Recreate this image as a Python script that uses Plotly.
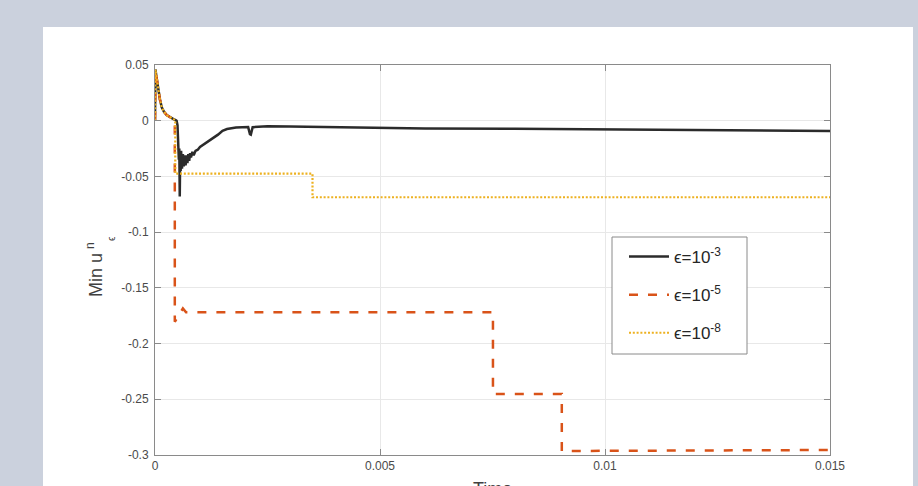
import plotly.graph_objects as go

# ---- data -------------------------------------------------------------
# common initial decay of the minimum (all three runs coincide here)
t_decay = [0.0, 0.00001, 0.00003, 0.00005, 0.00008, 0.00011, 0.00015,
           0.0002, 0.00026, 0.00033, 0.00041]
v_decay = [0.0, 0.046, 0.040, 0.034, 0.027, 0.019, 0.012,
           0.008, 0.005, 0.003, 0.0014]

# eps = 1e-3
t_e3 = t_decay + [0.00046, 0.00048, 0.0005, 0.00051, 0.00052, 0.00053, 0.00054,
                  0.00055, 0.00056, 0.00057, 0.00058, 0.0006, 0.00062, 0.00064,
                  0.00066, 0.00068, 0.0007, 0.00072, 0.00074, 0.00076, 0.00078,
                  0.0008, 0.00083, 0.00086, 0.0009, 0.00095, 0.001, 0.0011,
                  0.0012, 0.0013, 0.0014, 0.0015, 0.0016, 0.0018, 0.002,
                  0.00207, 0.00211, 0.00213, 0.00217, 0.0025, 0.003, 0.004,
                  0.005, 0.006, 0.008, 0.01, 0.012, 0.015]
v_e3 = v_decay + [0.0005, 0.0, -0.004, -0.02, -0.012, -0.035, -0.025,
                  -0.068, -0.03, -0.045, -0.027, -0.043, -0.03, -0.041,
                  -0.031, -0.04, -0.031, -0.038, -0.03, -0.036, -0.029,
                  -0.033, -0.028, -0.031, -0.027, -0.026, -0.0236, -0.021,
                  -0.018, -0.0155, -0.0125, -0.009, -0.0075, -0.0062, -0.0055,
                  -0.0057, -0.012, -0.0125, -0.0058, -0.005, -0.0052, -0.006,
                  -0.0066, -0.007, -0.0072, -0.0078, -0.0085, -0.0093]

# eps = 1e-5
t_e5 = t_decay + [0.00044, 0.00044, 0.00062, 0.00069, 0.00751, 0.00751,
                  0.00904, 0.00904, 0.015]
v_e5 = v_decay + [0.0006, -0.1804, -0.1685, -0.172, -0.172, -0.2452,
                  -0.2452, -0.2964, -0.2955]

# eps = 1e-8
t_e8 = t_decay + [0.00045, 0.00045, 0.0035, 0.0035, 0.015]
v_e8 = v_decay + [0.0006, -0.0475, -0.0475, -0.0687, -0.0687]

x_ticks = [0, 0.005, 0.01, 0.015]
x_tick_text = ["0", "0.005", "0.01", "0.015"]
y_ticks = [-0.3, -0.25, -0.2, -0.15, -0.1, -0.05, 0, 0.05]
y_tick_text = ["-0.3", "-0.25", "-0.2", "-0.15", "-0.1", "-0.05", "0", "0.05"]

names = ["\u03f5=10<sup>-3</sup>", "\u03f5=10<sup>-5</sup>", "\u03f5=10<sup>-8</sup>"]

# ---- figure -----------------------------------------------------------
FONT = "Liberation Sans, Arial, Helvetica, sans-serif"
W, H = 918, 486
L, R, T, B = 155, 88, 65, 31

fig = go.Figure()
fig.add_trace(go.Scatter(x=t_e3, y=v_e3, mode="lines", name=names[0],
                         legendgroup="a",
                         line=dict(color="#2b2b2b", width=2.5)))
fig.add_trace(go.Scatter(x=t_e5, y=v_e5, mode="lines", name=names[1],
                         legendgroup="b",
                         line=dict(color="#D95319", width=2.5, dash="9px,10px")))
fig.add_trace(go.Scatter(x=t_e8, y=v_e8, mode="lines", name=names[2],
                         legendgroup="c",
                         line=dict(color="#EDB120", width=2.2, dash="2px,1.8px")))

pw = W - L - R
ph = H - T - B

def px(xp):
    return (xp - L) / pw

def py(yp):
    return (H - B - yp) / ph

axis_common = dict(
    showline=True, mirror="allticks", linecolor="#8a8a8a", linewidth=1,
    ticks="inside", ticklen=6, tickcolor="#8a8a8a", tickwidth=1,
    showgrid=True, gridcolor="#e8e8e8", gridwidth=1, zeroline=False,
    tickfont=dict(family=FONT, size=12, color="#4a4a4a"),
)

fig.update_xaxes(range=[0, 0.015], tickvals=x_ticks, ticktext=x_tick_text,
                 **axis_common)
fig.update_yaxes(range=[-0.3, 0.05], tickvals=y_ticks, ticktext=y_tick_text,
                 ticklabelstandoff=3, **axis_common)

fig.update_layout(
    width=W, height=H,
    margin=dict(l=L, r=R, t=T, b=B, autoexpand=False),
    paper_bgcolor="#cbd1dd",
    plot_bgcolor="white",
    showlegend=True,
    legend=dict(x=px(624), y=py(239), xanchor="left", yanchor="top",
                bgcolor="rgba(0,0,0,0)", borderwidth=0,
                font=dict(family=FONT, size=17, color="#262626"),
                tracegroupgap=13, itemwidth=40),
    shapes=[
        # white panel behind the axes
        dict(type="rect", xref="paper", yref="paper", layer="below",
             x0=px(43), x1=px(913), y0=py(520), y1=py(27),
             fillcolor="white", line=dict(width=0)),
        # legend frame
        dict(type="rect", xref="paper", yref="paper", layer="above",
             x0=px(612), x1=px(747), y0=py(354), y1=py(237),
             fillcolor="white", line=dict(color="#8a8a8a", width=1)),
    ],
    annotations=[
        dict(text="Time", xref="paper", yref="paper", x=px(492), y=py(477),
             xanchor="center", yanchor="top", showarrow=False,
             font=dict(family=FONT, size=18, color="#404040")),
        dict(text="Min u", xref="paper", yref="paper", x=px(96), y=py(275),
             xanchor="center", yanchor="middle", textangle=-90, showarrow=False,
             font=dict(family=FONT, size=18, color="#404040")),
        dict(text="n", xref="paper", yref="paper", x=px(90), y=py(246),
             xanchor="center", yanchor="middle", textangle=-90, showarrow=False,
             font=dict(family=FONT, size=12, color="#404040")),
        dict(text="\u03f5", xref="paper", yref="paper", x=px(111), y=py(239),
             xanchor="center", yanchor="middle", textangle=-90, showarrow=False,
             font=dict(family=FONT, size=10, color="#404040")),
    ],
)

fig.write_html("out.html")
